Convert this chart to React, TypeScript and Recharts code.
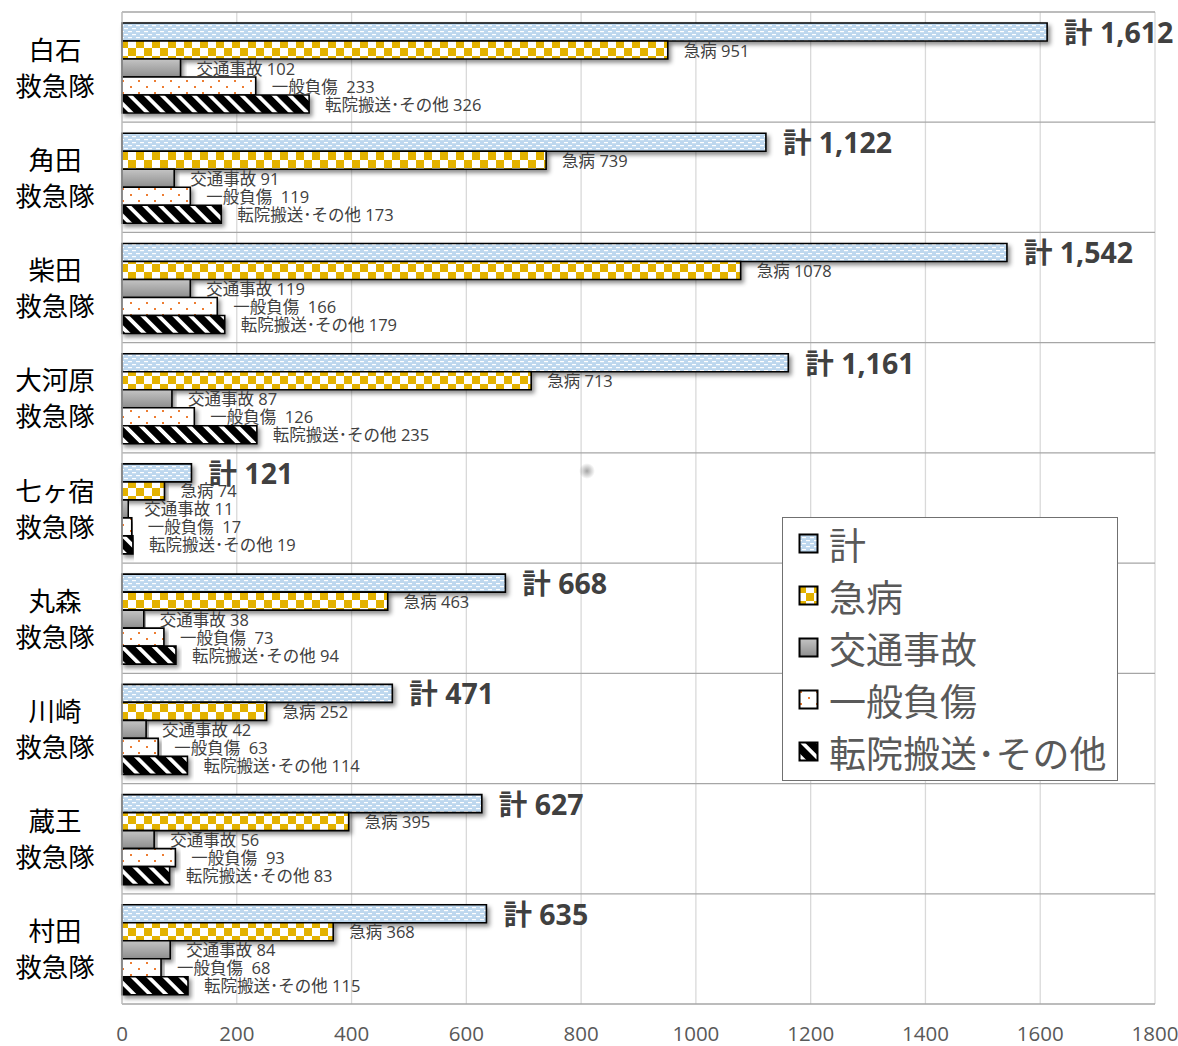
import { BarChart, Bar, XAxis, YAxis, CartesianGrid, LabelList } from "recharts";

// 救急出動件数（隊別・事故種別）
const stations = ["白石", "角田", "柴田", "大河原", "七ヶ宿", "丸森", "川崎", "蔵王", "村田"];
const totals = [1612, 1122, 1542, 1161, 121, 668, 471, 627, 635];
const illness = [951, 739, 1078, 713, 74, 463, 252, 395, 368];
const traffic = [102, 91, 119, 87, 11, 38, 42, 56, 84];
const injury = [233, 119, 166, 126, 17, 73, 63, 93, 68];
const transfer = [326, 173, 179, 235, 19, 94, 114, 83, 115];
const xTicks = [0, 200, 400, 600, 800, 1000, 1200, 1400, 1600, 1800];

const series = [
  { key: "total", name: "計", fill: "url(#pTotal)", sep: " " },
  { key: "illness", name: "急病", fill: "url(#pIllness)", sep: " " },
  { key: "traffic", name: "交通事故", fill: "url(#gTraffic)", sep: " " },
  { key: "injury", name: "一般負傷", fill: "url(#pInjury)", sep: "  " },
  { key: "transfer", name: "転院搬送･その他", fill: "url(#pTransfer)", sep: " " },
];

const data = stations.map((name, i) => ({
  name,
  total: totals[i],
  illness: illness[i],
  traffic: traffic[i],
  injury: injury[i],
  transfer: transfer[i],
}));

const FONT = "'Open Sans', 'Noto Sans CJK JP', sans-serif";
const CJK = "'Noto Sans CJK JP', sans-serif";

function StationTick({ x, y, payload }: any) {
  return (
    <g fontFamily={CJK} fontSize={26.5} fill="#000">
      <text x={x - 67} y={y - 19} textAnchor="middle" dominantBaseline="central">
        {payload.value}
      </text>
      <text x={x - 67} y={y + 17} textAnchor="middle" dominantBaseline="central">
        救急隊
      </text>
    </g>
  );
}

function totalLabel(props: any) {
  const { x, y, width, height, value } = props;
  return (
    <text
      x={x + width + 17}
      y={y + height / 2}
      dominantBaseline="central"
      fontFamily={FONT}
      fontSize={28.5}
      fontWeight={700}
      fill="#404040"
    >
      {"計 " + Number(value).toLocaleString("en-US")}
    </text>
  );
}

function makeLabel(name: string, sep: string) {
  return (props: any) => {
    const { x, y, width, height, value } = props;
    return (
      <text
        x={x + width + 16}
        y={y + height / 2}
        dominantBaseline="central"
        fontFamily={FONT}
        fontSize={16.5}
        fill="#404040"
        style={{ whiteSpace: "pre" }}
      >
        {name + sep + value}
      </text>
    );
  };
}

function Legendbox() {
  return (
    <div
      style={{
        position: "absolute",
        left: 782,
        top: 517,
        width: 336,
        height: 264,
        boxSizing: "border-box",
        border: "1.5px solid #707070",
        background: "#fff",
      }}
    >
      {series.map((s) => (
        <div key={s.key} style={{ display: "flex", alignItems: "center", height: 52 }}>
          <svg width={22} height={22} style={{ marginLeft: 15 }}>
            <rect x={1.5} y={1.5} width={18} height={18} fill={s.fill} stroke="#000" strokeWidth={2} />
          </svg>
          <span
            style={{
              marginLeft: 9,
              fontFamily: CJK,
              fontSize: 37,
              color: "#595959",
              lineHeight: 1,
              whiteSpace: "pre",
            }}
          >
            {s.name}
          </span>
        </div>
      ))}
    </div>
  );
}

export default function App() {
  return (
    <div style={{ position: "absolute", left: 0, top: 0, width: 1178, height: 1046 }}>
      <BarChart
        width={1178}
        height={1046}
        data={data}
        layout="vertical"
        margin={{ top: 12, right: 23, bottom: 0, left: 0 }}
        barCategoryGap="10%"
        barGap={0}
      >
        <defs>
          <pattern id="pTotal" width={8} height={6} patternUnits="userSpaceOnUse">
            <rect width={8} height={6} fill="#bdd7ee" />
            <rect x={0} y={1} width={4} height={1.2} fill="#fff" />
            <rect x={4} y={4} width={4} height={1.2} fill="#fff" />
          </pattern>
          <pattern id="pIllness" width={16} height={16} patternUnits="userSpaceOnUse">
            <rect width={16} height={16} fill="#fff" />
            <rect x={0} y={0} width={8} height={8} fill="#e3b200" />
            <rect x={8} y={8} width={8} height={8} fill="#e3b200" />
          </pattern>
          <linearGradient id="gTraffic" x1="0" y1="0" x2="0" y2="1">
            <stop offset="0%" stopColor="#c4c4c4" />
            <stop offset="100%" stopColor="#8e8e8e" />
          </linearGradient>
          <pattern id="pInjury" width={16} height={12} patternUnits="userSpaceOnUse">
            <rect width={16} height={12} fill="#fff" />
            <rect x={2} y={2} width={2} height={2} fill="#ed7d31" />
            <rect x={10} y={8} width={2} height={2} fill="#ed7d31" />
          </pattern>
          <pattern
            id="pTransfer"
            width={11.3}
            height={11.3}
            patternUnits="userSpaceOnUse"
            patternTransform="rotate(-45)"
          >
            <rect width={11.3} height={11.3} fill="#000" />
            <rect x={0} y={0} width={3.8} height={11.3} fill="#fff" />
          </pattern>
          <filter id="shadow" x="-5%" y="-30%" width="115%" height="180%">
            <feDropShadow dx={2.5} dy={3} stdDeviation={2} floodColor="#000" floodOpacity={0.45} />
          </filter>
        </defs>
        <CartesianGrid horizontal={false} stroke="#d9d9d9" strokeWidth={1.3} />
        <CartesianGrid
          vertical={false}
          stroke="#a6a6a6"
          strokeWidth={1.3}
          horizontalCoordinatesGenerator={({ offset }: any) =>
            stations.concat("").map((_, i) => offset.top + (i * offset.height) / stations.length)
          }
        />
        <XAxis
          type="number"
          domain={[0, 1800]}
          ticks={xTicks}
          interval={0}
          axisLine={false}
          tickLine={false}
          tickSize={0}
          tickMargin={22}
          height={42}
          tick={{ fill: "#595959", fontSize: 20.5, fontFamily: FONT }}
        />
        <YAxis
          type="category"
          dataKey="name"
          width={122}
          axisLine={{ stroke: "#bfbfbf", strokeWidth: 1.3 }}
          tickLine={false}
          tickSize={0}
          tickMargin={0}
          interval={0}
          tick={<StationTick />}
        />
        {series.map((s) => (
          <Bar
            key={s.key}
            dataKey={s.key}
            name={s.name}
            fill={s.fill}
            stroke="#000"
            strokeWidth={1.6}
            filter="url(#shadow)"
            isAnimationActive={false}
          >
            <LabelList
              dataKey={s.key}
              content={s.key === "total" ? totalLabel : makeLabel(s.name, s.sep)}
            />
          </Bar>
        ))}
      </BarChart>
      <Legendbox />
      <div
        style={{
          position: "absolute",
          left: 579,
          top: 463,
          width: 16,
          height: 16,
          borderRadius: 8,
          background: "radial-gradient(circle, rgba(90,90,90,0.55) 0%, rgba(120,120,120,0) 70%)",
        }}
      />
    </div>
  );
}
